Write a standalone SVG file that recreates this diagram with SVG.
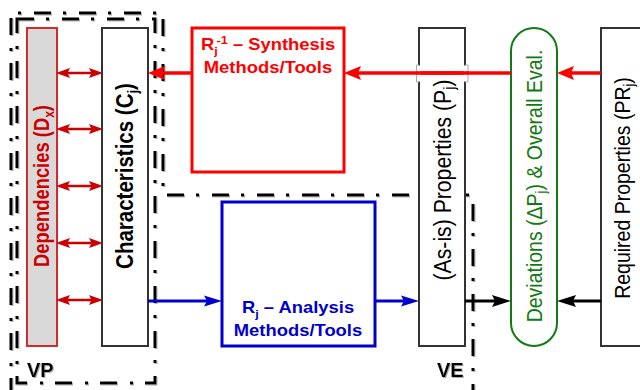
<svg xmlns="http://www.w3.org/2000/svg" width="640" height="390" viewBox="0 0 640 390">
  <defs>
    <style>
      .box { fill: #ffffff; stroke: #333333; stroke-width: 2; }
      .lbl { font-family: "Liberation Sans", Arial, sans-serif; }
      .b { font-weight: bold; }
      .frame { fill: none; stroke: #000000; stroke-width: 3; stroke-dasharray: 17 12 3 13; }
      .red { stroke: #ff0000; stroke-width: 3.5; fill: none; }
      .dred { stroke: #cc0000; stroke-width: 2.5; fill: none; }
      .blue { stroke: #0000cc; stroke-width: 3; fill: none; }
      .blk { stroke: #000000; stroke-width: 3; fill: none; }
    </style>
    <filter id="shade" filterUnits="userSpaceOnUse" x="0" y="0" width="640" height="390">
      <feDropShadow dx="1" dy="1" stdDeviation="0.6" flood-color="#999999" flood-opacity="0.8"/>
    </filter>
    <marker id="ah-red" markerUnits="userSpaceOnUse" viewBox="0 0 17 14" markerWidth="17" markerHeight="14" refX="7" refY="7" orient="auto">
      <path d="M0,0 L17,7 L0,14 L3,7 Z" fill="#ff0000"/>
    </marker>
    <marker id="ah-dred" markerUnits="userSpaceOnUse" viewBox="0 0 14 10" markerWidth="14" markerHeight="10" refX="5" refY="5" orient="auto-start-reverse">
      <path d="M0,0 L14,5 L0,10 L2.5,5 Z" fill="#cc0000"/>
    </marker>
    <marker id="ah-blue" markerUnits="userSpaceOnUse" viewBox="0 0 18 12" markerWidth="18" markerHeight="12" refX="8" refY="6" orient="auto">
      <path d="M0,0.5 L18,6 L0,11.5 L3,6 Z" fill="#0000cc"/>
    </marker>
    <marker id="ah-blk" markerUnits="userSpaceOnUse" viewBox="0 0 19 12" markerWidth="19" markerHeight="12" refX="9" refY="6" orient="auto">
      <path d="M0,0 L19,6 L0,12 L3,6 Z" fill="#000000"/>
    </marker>
  </defs>

  <rect width="640" height="390" fill="#ffffff"/>

  <!-- view frames (dash-dot) -->
  <g id="frames" filter="url(#shade)">
    <path class="frame" d="M11,395 V13 H163 V195 H473 V395"/>
    <rect class="frame" x="17" y="19" width="138" height="364"/>
  </g>

  <!-- nodes -->
  <g id="dependencies">
    <rect x="27" y="28" width="30" height="318" fill="#d9d9d9" stroke="#d42a2a" stroke-width="2"/>
    <text class="lbl b" transform="translate(42,186) scale(1.15,1) rotate(-90)" text-anchor="middle" dy="0.35em" font-size="18.4" fill="#cc0000">Dependencies (D<tspan font-size="12" dy="4">x</tspan><tspan dy="-4">)</tspan></text>
  </g>

  <g id="characteristics">
    <rect class="box" x="102" y="28" width="46" height="318"/>
    <text class="lbl b" transform="translate(125,176) scale(1.15,1) rotate(-90)" text-anchor="middle" dy="0.35em" font-size="20.5" fill="#000000">Characteristics (C<tspan font-size="13" dy="4">j</tspan><tspan dy="-4">)</tspan></text>
  </g>

  <g id="synthesis">
    <rect x="192" y="28" width="152" height="144" fill="#ffffff" stroke="#ff0000" stroke-width="3"/>
    <g transform="translate(268,0) scale(1.15,1)">
      <text class="lbl b" x="0" y="50" text-anchor="middle" font-size="16" fill="#ff0000">R<tspan font-size="11" dy="5">j</tspan><tspan font-size="11" dx="-1" dy="-11">-1</tspan><tspan dy="6"> – Synthesis</tspan></text>
      <text class="lbl b" x="0" y="73" text-anchor="middle" font-size="16" fill="#ff0000">Methods/Tools</text>
    </g>
  </g>

  <g id="analysis">
    <rect x="222" y="202" width="153" height="144" fill="#ffffff" stroke="#0000cc" stroke-width="3"/>
    <g transform="translate(298,0) scale(1.15,1)">
      <text class="lbl b" x="0" y="313" text-anchor="middle" font-size="16" fill="#0000cc">R<tspan font-size="11" dy="5">j</tspan><tspan dy="-5"> – Analysis</tspan></text>
      <text class="lbl b" x="0" y="336" text-anchor="middle" font-size="16" fill="#0000cc">Methods/Tools</text>
    </g>
  </g>

  <g id="properties">
    <rect class="box" x="419" y="28" width="46" height="318"/>
    <text class="lbl" transform="translate(442,180) scale(1.15,1) rotate(-90)" text-anchor="middle" dy="0.35em" font-size="21.2" fill="#000000">(As-is) Properties (P<tspan font-size="14" dy="4">j</tspan><tspan dy="-4">)</tspan></text>
  </g>

  <g id="deviations">
    <rect x="511" y="28" width="46" height="318" rx="23" ry="23" fill="#ffffff" stroke="#137a13" stroke-width="2"/>
    <text class="lbl" transform="translate(534,186) scale(1.15,1) rotate(-90)" text-anchor="middle" dy="0.35em" font-size="19.5" fill="#137a13">Deviations (ΔP<tspan font-size="13" dy="4">j</tspan><tspan dy="-4">) &amp; Overall Eval.</tspan></text>
  </g>

  <g id="required">
    <rect class="box" x="601" y="28" width="60" height="318"/>
    <text class="lbl" transform="translate(622,188) scale(1.15,1) rotate(-90)" text-anchor="middle" dy="0.35em" font-size="19.5" fill="#000000">Required Properties (PR<tspan font-size="13" dy="4">j</tspan><tspan dy="-4">)</tspan></text>
  </g>

  <g id="view-labels" filter="url(#shade)">
    <text class="lbl b" x="27" y="377" font-size="20" fill="#000000">VP</text>
    <text class="lbl b" x="437" y="377" font-size="20" fill="#000000">VE</text>
  </g>

  <!-- connectors -->
  <g id="connectors">
    <!-- feedback path: required -> deviations -> synthesis -> characteristics -->
    <line class="red" x1="601" y1="73" x2="567" y2="73" marker-end="url(#ah-red)"/>
    <line class="red" x1="511" y1="73" x2="354" y2="73" marker-end="url(#ah-red)"/>
    <line class="red" x1="192" y1="73" x2="158" y2="73" marker-end="url(#ah-red)"/>
    <!-- line hop across the properties box -->
    <path d="M419,65 H416.5 V82 H419 M465,65 H468 V82 H465" fill="none" stroke="#aaaaaa" stroke-width="1"/>
    <path d="M419,65.5 V81.5 M465,65.5 V81.5" stroke="#ffffff" stroke-width="2.5"/>
    <line class="red" x1="416" y1="73" x2="469" y2="73"/>

    <!-- dependencies <-> characteristics -->
    <line class="dred" x1="65" y1="73" x2="94" y2="73" marker-start="url(#ah-dred)" marker-end="url(#ah-dred)"/>
    <line class="dred" x1="65" y1="129" x2="94" y2="129" marker-start="url(#ah-dred)" marker-end="url(#ah-dred)"/>
    <line class="dred" x1="65" y1="186" x2="94" y2="186" marker-start="url(#ah-dred)" marker-end="url(#ah-dred)"/>
    <line class="dred" x1="65" y1="243" x2="94" y2="243" marker-start="url(#ah-dred)" marker-end="url(#ah-dred)"/>
    <line class="dred" x1="65" y1="300" x2="94" y2="300" marker-start="url(#ah-dred)" marker-end="url(#ah-dred)"/>

    <!-- forward path: characteristics -> analysis -> properties -->
    <line class="blue" x1="148" y1="301" x2="212" y2="301" marker-end="url(#ah-blue)"/>
    <line class="blue" x1="375" y1="301" x2="409" y2="301" marker-end="url(#ah-blue)"/>

    <!-- comparison inputs -->
    <line class="blk" x1="465" y1="301" x2="501" y2="301" marker-end="url(#ah-blk)"/>
    <line class="blk" x1="601" y1="301" x2="567" y2="301" marker-end="url(#ah-blk)"/>
  </g>
</svg>
